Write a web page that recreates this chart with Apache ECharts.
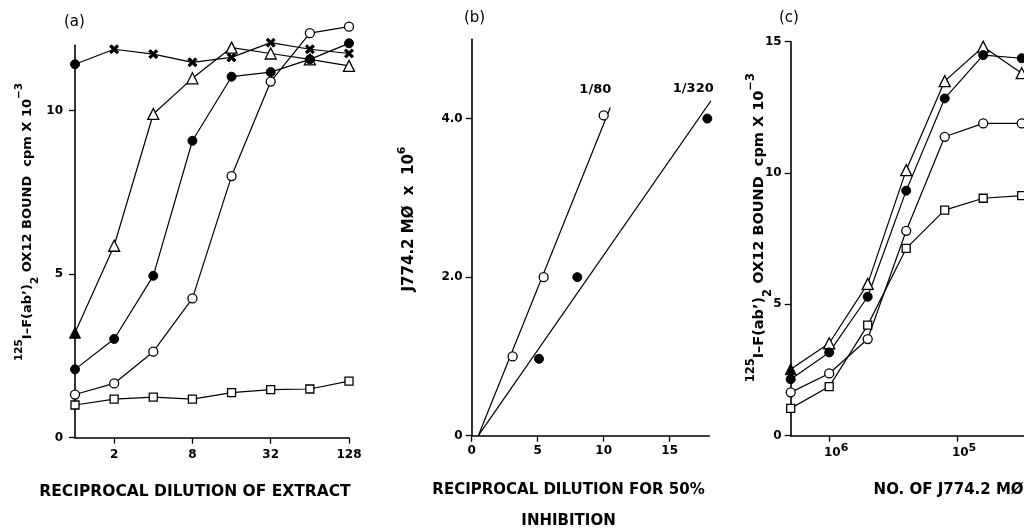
<!DOCTYPE html>
<html><head><meta charset="utf-8">
<script src="https://cdn.jsdelivr.net/npm/echarts@6/dist/echarts.min.js"></script>
<style>html,body{margin:0;padding:0;background:#fff}#c{width:1024px;height:531px}</style>
</head><body><div id="c"></div>
<script>
// ---------- Panel (a) ----------
const dilutionA = ['1','2','4','8','16','32','64','128'];
const aCross    = [11.42, 11.88, 11.73, 11.48, 11.63, 12.08, 11.88, 11.75];
const aTriangle = [3.21, 5.87, 9.90, 10.99, 11.93, 11.75, 11.57, 11.37];
const aFilled   = [2.09, 3.02, 4.95, 9.08, 11.04, 11.18, 11.57, 12.06];
const aOpen     = [1.32, 1.66, 2.63, 4.26, 8.00, 10.89, 12.37, 12.57];
const aSquare   = [1.00, 1.18, 1.24, 1.18, 1.38, 1.47, 1.49, 1.73];
const aLabelShown = ['2','8','32','128'];

// ---------- Panel (b) ----------
const bOpen    = [[3.1, 1.0], [5.45, 2.0], [10.0, 4.04]];
const bFilled  = [[5.1, 0.97], [8.0, 2.0], [17.85, 4.0]];
const bFit80   = [[0.5, 0], [10.5, 4.14]];
const bFit320  = [[0.5, 0], [18.15, 4.23]];
const bLineLabels = ['1/80', '1/320'];

// ---------- Panel (c) ----------
const cellsC    = [2e6, 1e6, 5e5, 2.5e5, 1.25e5, 6.25e4, 3.125e4];
const cTriangle = [2.53, 3.52, 5.78, 10.11, 13.50, 14.81, 13.80];
const cFilled   = [2.15, 3.17, 5.29, 9.33, 12.84, 14.49, 14.37];
const cOpen     = [1.65, 2.37, 3.68, 7.80, 11.38, 11.89, 11.89];
const cSquare   = [1.04, 1.87, 4.21, 7.13, 8.59, 9.04, 9.14];

const FF = 'DejaVu Sans';
const crossPath = 'path://M2,0L5,3L8,0L10,2L7,5L10,8L8,10L5,7L2,10L0,8L3,5L0,2Z';
const openStyle = {color:'#fff', borderColor:'#000', borderWidth:1.3, opacity:1};
const fillStyle = {color:'#000', borderColor:'#000', borderWidth:1, opacity:1};
const lineStyle = {color:'#000', width:1.2};

function lineSeries(data, symbol, size, style, xi, yi){
  return {type:'line', xAxisIndex:xi, yAxisIndex:yi, data:data, symbol:symbol, symbolSize:size,
    showSymbol:true, itemStyle:style, lineStyle:lineStyle, clip:false, silent:true,
    emphasis:{disabled:true}, z:3};
}
const pairs = (xs, ys) => xs.map((x,i)=>[x, ys[i]]);

const axisLineS = {show:true, onZero:false, lineStyle:{color:'#000', width:1.6}};
const tickS = {show:true, length:6, lineStyle:{color:'#000', width:1.3}};
const labelS = {color:'#000', fontFamily:FF, fontWeight:'bold', fontSize:12};
const nameS = {color:'#000', fontFamily:FF, fontWeight:'bold', fontSize:15};

const yTitle = '{sup|125}I\u2013F(ab\u2019){sub|2} OX12 BOUND  cpm X 10{sup|\u22123}';

const option = {
  animation:false,
  backgroundColor:'#fff',
  title:[
    {text:'(a)', left:59, top:10, textStyle:{fontFamily:FF, fontWeight:'normal', fontSize:15, color:'#000'}},
    {text:'(b)', left:459, top:6, textStyle:{fontFamily:FF, fontWeight:'normal', fontSize:15, color:'#000'}},
    {text:'(c)', left:774, top:6, textStyle:{fontFamily:FF, fontWeight:'normal', fontSize:15, color:'#000'}}
  ],
  grid:[
    {left:75, width:274, top:45.3, bottom:93.3, outerBoundsMode:'none', containLabel:false},
    {left:471.7, width:237.6, top:39.3, bottom:95.3, outerBoundsMode:'none', containLabel:false},
    {left:790.7, width:255.8, top:41.7, bottom:95.3, outerBoundsMode:'none', containLabel:false}
  ],
  xAxis:[
    {type:'category', gridIndex:0, data:dilutionA, boundaryGap:false,
     axisLine:axisLineS,
     axisTick:Object.assign({}, tickS, {interval:(i,v)=>aLabelShown.indexOf(v)>=0}),
     axisLabel:Object.assign({}, labelS, {margin:11, interval:(i,v)=>aLabelShown.indexOf(v)>=0}),
     splitLine:{show:false},
     name:'RECIPROCAL DILUTION OF EXTRACT', nameLocation:'middle', nameGap:46, nameMoveOverlap:false,
     nameTextStyle:Object.assign({}, nameS, {fontSize:15.5, padding:[0,34,0,0]})},
    {type:'value', gridIndex:1, min:0, max:18, interval:5,
     axisLine:axisLineS, axisTick:tickS,
     axisLabel:Object.assign({}, labelS, {margin:9, showMaxLabel:false}),
     splitLine:{show:false},
     name:'RECIPROCAL DILUTION FOR 50%\nINHIBITION', nameLocation:'middle', nameGap:39, nameMoveOverlap:false,
     nameTextStyle:Object.assign({}, nameS, {lineHeight:31, padding:[0,44,0,0]})},
    {type:'log', logBase:10, gridIndex:2, min:2e4, max:2e6, inverse:true,
     axisLine:axisLineS, axisTick:tickS,
     axisLabel:Object.assign({}, labelS, {margin:7, lineHeight:21, padding:[0,0,0,14],
       showMinLabel:false, showMaxLabel:false,
       formatter:function(v){
         const e = Math.log10(v); const r = Math.round(e);
         return Math.abs(e-r) < 1e-6 ? '10{s|' + r + '}' : '';
       },
       rich:{s:{fontFamily:FF, fontWeight:'bold', fontSize:11, verticalAlign:'top', color:'#000'}}}),
     splitLine:{show:false}, minorTick:{show:false},
     name:'NO. OF J774.2 M\u00D8', nameLocation:'middle', nameGap:47, nameMoveOverlap:false,
     nameTextStyle:Object.assign({}, nameS, {padding:[0,0,0,60]})}
  ],
  yAxis:[
    {type:'value', gridIndex:0, min:0, max:12, interval:5,
     axisLine:axisLineS, axisTick:tickS,
     axisLabel:Object.assign({}, labelS, {margin:12, showMaxLabel:false}),
     splitLine:{show:false},
     name:yTitle, nameLocation:'middle', nameRotate:90, nameGap:34, nameMoveOverlap:false,
     nameTextStyle:{color:'#000', fontFamily:FF, fontWeight:'bold', fontSize:13, lineHeight:27, padding:[0,0,0,39],
       rich:{sup:{fontFamily:FF, fontWeight:'bold', fontSize:10.5, verticalAlign:'top', color:'#000'},
             sub:{fontFamily:FF, fontWeight:'bold', fontSize:10.5, verticalAlign:'bottom', color:'#000'}}}},
    {type:'value', gridIndex:1, min:0, max:5, interval:2,
     axisLine:axisLineS, axisTick:tickS,
     axisLabel:Object.assign({}, labelS, {margin:9, showMaxLabel:false,
       formatter:v => v===0 ? '0' : v.toFixed(1)}),
     splitLine:{show:false},
     name:'J774.2 M\u00D8  x  10{sup|6}', nameLocation:'middle', nameRotate:90, nameGap:51, nameMoveOverlap:false,
     nameTextStyle:{color:'#000', fontFamily:FF, fontWeight:'bold', fontSize:15, lineHeight:24, padding:[0,0,0,37],
       rich:{sup:{fontFamily:FF, fontWeight:'bold', fontSize:11, verticalAlign:'top', color:'#000'}}}},
    {type:'value', gridIndex:2, min:0, max:15, interval:5,
     axisLine:axisLineS, axisTick:tickS,
     axisLabel:Object.assign({}, labelS, {margin:9}),
     splitLine:{show:false},
     name:yTitle, nameLocation:'middle', nameRotate:90, nameGap:17, nameMoveOverlap:false,
     nameTextStyle:{color:'#000', fontFamily:FF, fontWeight:'bold', fontSize:14.5, lineHeight:29, padding:[0,0,0,22],
       rich:{sup:{fontFamily:FF, fontWeight:'bold', fontSize:11.5, verticalAlign:'top', color:'#000'},
             sub:{fontFamily:FF, fontWeight:'bold', fontSize:11.5, verticalAlign:'bottom', color:'#000'}}}}
  ],
  series:[
    // (a)
    lineSeries(aCross.map((v,i)=> i===0 ? {value:v, symbol:'circle', symbolSize:9} : v), crossPath, 9, fillStyle, 0, 0),
    lineSeries(aTriangle.map((v,i)=> i===0 ? {value:v, itemStyle:fillStyle} : v), 'triangle', 11, openStyle, 0, 0),
    lineSeries(aFilled, 'circle', 9, fillStyle, 0, 0),
    lineSeries(aOpen, 'circle', 9, openStyle, 0, 0),
    lineSeries(aSquare, 'rect', 8, openStyle, 0, 0),
    // (b)
    {type:'line', xAxisIndex:1, yAxisIndex:1, data:bFit80.map((p,i)=> i===bFit80.length-1 ?
        {value:p, label:{show:true, formatter:bLineLabels[0], position:'top', offset:[-15,-6],
          fontFamily:FF, fontWeight:'bold', fontSize:13, color:'#000'}} : p),
     symbol:'circle', symbolSize:0, itemStyle:{color:'#000'}, lineStyle:lineStyle, clip:false, silent:true, z:2},
    {type:'line', xAxisIndex:1, yAxisIndex:1, data:bFit320.map((p,i)=> i===bFit320.length-1 ?
        {value:p, label:{show:true, formatter:bLineLabels[1], position:'top', offset:[-18,0],
          fontFamily:FF, fontWeight:'bold', fontSize:13, color:'#000'}} : p),
     symbol:'circle', symbolSize:0, itemStyle:{color:'#000'}, lineStyle:lineStyle, clip:false, silent:true, z:2},
    {type:'scatter', xAxisIndex:1, yAxisIndex:1, data:bOpen, symbol:'circle', symbolSize:9, itemStyle:openStyle, clip:false, silent:true, z:3},
    {type:'scatter', xAxisIndex:1, yAxisIndex:1, data:bFilled, symbol:'circle', symbolSize:9, itemStyle:fillStyle, clip:false, silent:true, z:3},
    // (c)
    lineSeries(pairs(cellsC, cTriangle).map((p,i)=> i===0 ? {value:p, itemStyle:fillStyle} : p), 'triangle', 11, openStyle, 2, 2),
    lineSeries(pairs(cellsC, cFilled), 'circle', 9, fillStyle, 2, 2),
    lineSeries(pairs(cellsC, cOpen), 'circle', 9, openStyle, 2, 2),
    lineSeries(pairs(cellsC, cSquare), 'rect', 8, openStyle, 2, 2)
  ]
};
const chart = echarts.init(document.getElementById('c'), null, {renderer:'canvas'});
chart.setOption(option);
</script>
</body></html>
